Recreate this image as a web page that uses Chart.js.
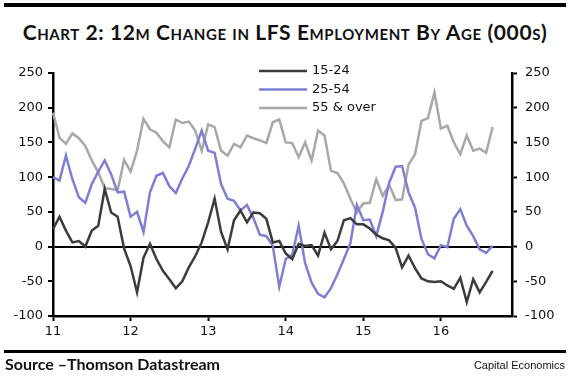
<!DOCTYPE html>
<html>
<head>
<meta charset="utf-8">
<script src="https://cdn.jsdelivr.net/npm/chart.js@4.4.0/dist/chart.umd.min.js"></script>
<style>
body { margin:0; background:#fff; }
#wrap { position:relative; width:570px; height:377px; overflow:hidden; background:#fff; }
#chart { position:absolute; left:0; top:0; }
.rule { position:absolute; left:4px; width:562px; background:#000; }
#title { position:absolute; left:0; top:20px; width:570px; text-align:center; font:bold 21px Lato; font-variant:small-caps; letter-spacing:0.6px; line-height:24px; color:#111; }
#source { position:absolute; left:5px; top:354px; font:bold 16px Lato; line-height:19px; color:#111; }
#credit { position:absolute; right:5px; top:358px; font:11px "Liberation Sans"; line-height:14px; color:#111; }
</style>
</head>
<body>
<div id="wrap">
  <div class="rule" style="top:3px;height:4px"></div>
  <div id="title">Chart 2: 12m Change in LFS Employment By Age (000s)</div>
  <canvas id="chart" width="570" height="377"></canvas>
  <div class="rule" style="top:350px;height:3px"></div>
  <div id="source">Source –Thomson Datastream</div>
  <div id="credit">Capital Economics</div>
</div>
<script>
// months Jan 2011 .. Dec 2016 (data stops at Sep 2016)
var months = [];
for (var y = 2011; y <= 2016; y++) {
    for (var m = 1; m <= 12; m++) {
        months.push(y + '-' + (m < 10 ? '0' + m : m));
    }
}
var yearLabels = ['11', '12', '13', '14', '15', '16'];

var age15to24 = [25,43,23,6,8,0,23,30,83,49,
    43,-3,-28,-66,-16,4,-18,-35,-47,-60,
    -50,-30,-14,6,35,69,21,-4,38,52,
    35,49,48,40,6,8,-10,-18,4,1,
    2,-13,20,-4,8,38,41,32,32,26,
    17,12,9,-2,-30,-13,-31,-46,-50,-51,
    -50,-56,-61,-45,-80,-47,-66,-51,-35];

var age25to54 = [100,95,131,97,71,63,90,108,124,104,
    78,79,43,50,21,78,102,106,87,77,
    98,116,141,167,138,135,90,69,66,52,
    60,41,17,15,1,-58,-18,-12,30,-24,
    -52,-68,-73,-60,-40,-18,5,60,38,39,
    15,50,92,115,116,78,56,11,-11,-17,
    2,-1,40,54,30,15,-4,-9,1];

var age55over = [193,157,148,163,156,145,124,107,84,83,
    81,125,108,138,184,169,164,152,143,183,
    178,180,167,138,176,172,138,131,148,143,
    160,156,153,149,179,183,150,149,129,150,
    124,167,160,109,106,91,69,49,62,63,
    97,73,89,67,68,118,133,181,185,222,
    170,174,150,133,160,138,141,135,172];

var axisFont = { family: 'DejaVu Sans', size: 13 };

var legendPlugin = {
    id: 'ageLegend',
    afterDraw: function(chart) {
        var ctx = chart.ctx;
        var x0 = 259, x1 = 307, top = 71, gap = 18.5;
        chart.data.datasets.forEach(function(ds, i) {
            var yy = top + i * gap;
            ctx.save();
            ctx.strokeStyle = ds.borderColor;
            ctx.lineWidth = 2.5;
            ctx.beginPath();
            ctx.moveTo(x0, yy);
            ctx.lineTo(x1, yy);
            ctx.stroke();
            ctx.fillStyle = '#111';
            ctx.font = '13px "DejaVu Sans"';
            ctx.textBaseline = 'middle';
            ctx.fillText(ds.label, x1 + 5, yy);
            ctx.restore();
        });
    }
};

var ctx = document.getElementById('chart').getContext('2d');
var myChart = new Chart(ctx, {
    type: 'line',
    data: {
        labels: months,
        datasets: [{
            label: '15-24',
            data: age15to24,
            borderColor: '#3c3c3c'
        },
        {
            label: '25-54',
            data: age25to54,
            borderColor: '#7d7fd4'
        },
        {
            label: '55 & over',
            data: age55over,
            borderColor: '#a8a8a8'
        }]
    },
    options: {
        responsive: false,
        animation: false,
        layout: { padding: { top: 73, left: 0, right: 0, bottom: 0 } },
        plugins: { legend: { display: false }, tooltip: { enabled: false } },
        elements: {
            point: { radius: 0 },
            line: { borderWidth: 2.5, tension: 0 }
        },
        scales: {
            x: {
                type: 'category',
                afterFit: function(s) { s.height = 61; },
                afterBuildTicks: function(s) {
                    s.ticks = s.ticks.filter(function(t) { return months[t.value].slice(5) === '01'; });
                },
                border: { color: '#000', width: 2.5 },
                grid: { drawOnChartArea: false, tickLength: 5, tickColor: '#000', tickWidth: 2 },
                ticks: {
                    autoSkip: false, maxRotation: 0, padding: 3, color: '#111', font: axisFont,
                    callback: function(v, i) { return yearLabels[i]; }
                }
            },
            y: {
                position: 'left', min: -100, max: 250,
                afterFit: function(s) { s.width = 53; },
                border: { color: '#000', width: 2.5 },
                grid: {
                    color: function(c) { return c.tick && c.tick.value === 0 ? '#000' : 'rgba(0,0,0,0)'; },
                    lineWidth: 2, tickColor: '#000', tickLength: 5, tickWidth: 2
                },
                ticks: { stepSize: 50, padding: 5, color: '#111', font: axisFont }
            },
            y2: {
                position: 'right', min: -100, max: 250,
                afterFit: function(s) { s.width = 58; },
                border: { color: '#000', width: 2.5 },
                grid: { drawOnChartArea: false, tickColor: '#000', tickLength: 5, tickWidth: 2 },
                ticks: { stepSize: 50, padding: 8, color: '#111', font: axisFont }
            }
        }
    },
    plugins: [legendPlugin]
});
</script>
</body>
</html>
